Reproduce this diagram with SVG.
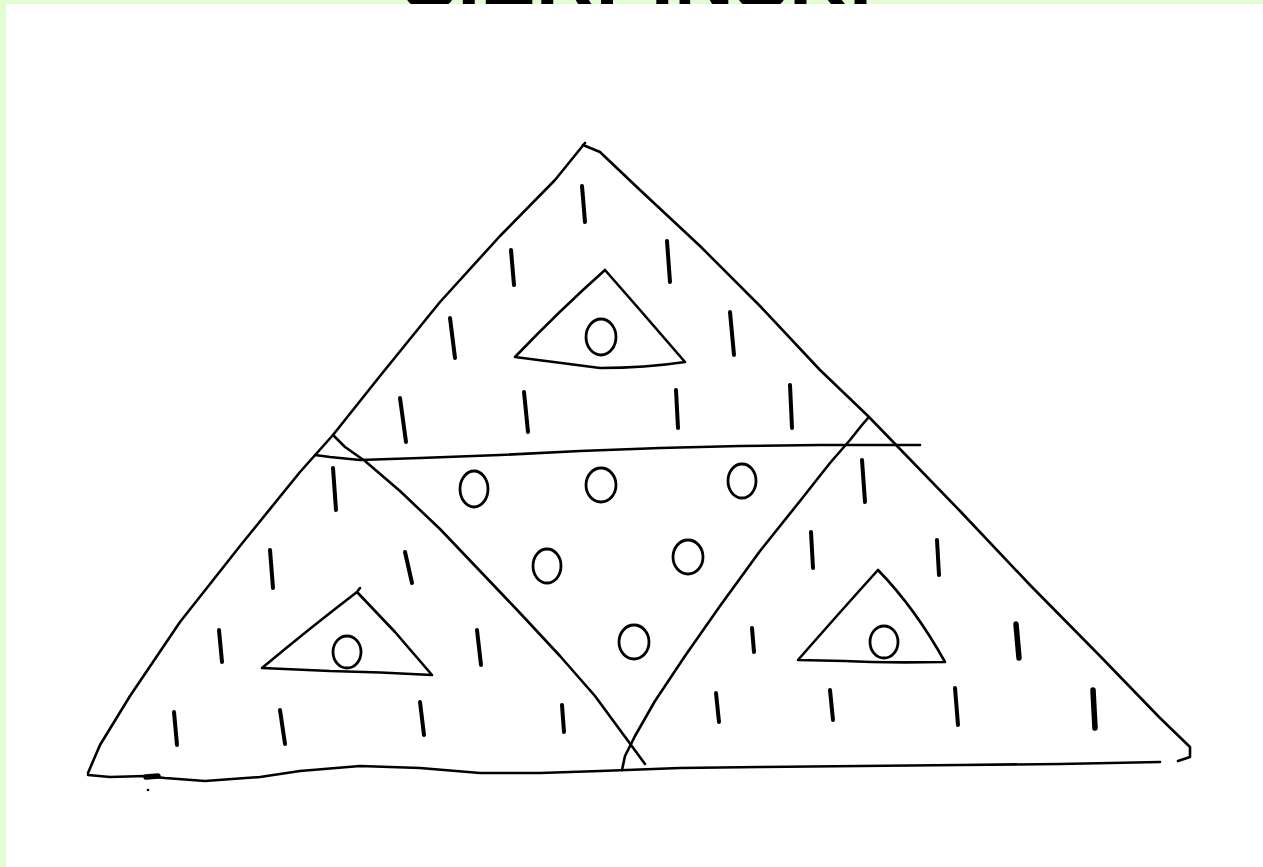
<svg xmlns="http://www.w3.org/2000/svg" width="1263" height="867" viewBox="0 0 1263 867">
<style>
.ln{fill:none;stroke:#000;stroke-width:2.6;stroke-linecap:round;stroke-linejoin:round}
.tk{fill:none;stroke:#000;stroke-width:4;stroke-linecap:round}
.tkb{fill:none;stroke:#000;stroke-width:5.5;stroke-linecap:round}
.ci{fill:none;stroke:#000;stroke-width:2.8}
.title{font-family:"Liberation Sans",Arial,sans-serif;font-weight:bold;font-size:84px;fill:#000}
</style>
<rect x="0" y="0" width="1263" height="867" fill="#e2fcd4"/>
<text class="title" x="402" y="8" textLength="470" lengthAdjust="spacingAndGlyphs">SIERPINSKI</text>
<rect x="6" y="4" width="1257" height="863" fill="#fff"/>
<g id="outer-triangle">
<path class="ln" d="M585 143 L555 180 L500 236 L440 302 L380 376 L333 435 L300 472 L240 546 L180 622 L130 696 L100 745 L88 773"/>
<path class="ln" d="M583 145 L600 152 L640 190 L700 246 L760 306 L820 370 L868 416 L900 449 L960 511 L1030 585 L1100 656 L1160 718 L1190 747 L1190 757 L1178 761"/>
<path class="ln" d="M88 775 L110 777 L145 776 L165 778 L205 781 L260 777 L300 771 L360 766 L420 768 L480 773 L540 773 L600 771 L680 768 L760 767 L860 766 L960 765 L1060 764 L1160 762"/>
<path class="tkb" d="M146 777 L158 776"/>
<circle cx="148" cy="790" r="1.3" fill="#000"/>
</g>
<g id="middle-line">
<path class="ln" d="M315 455 L330 457 L360 460 L420 458 L500 455 L580 451 L660 448 L740 446 L820 445 L920 445"/>
</g>
<g id="inner-triangle">
<path class="ln" d="M333 435 L345 447 L365 461 L400 491 L440 529 L480 571 L520 613 L560 656 L595 696 L620 730 L645 764"/>
<path class="ln" d="M868 418 L862 425 L850 440 L830 463 L800 501 L760 551 L720 606 L685 656 L655 701 L635 736 L625 756 L622 770"/>
</g>
<g id="top-small-triangle">
<path class="ln" d="M605 270 L640 310 L685 362 Q645 368 600 368 Q555 362 515 357 Q560 310 605 270"/>
<ellipse class="ci" cx="601" cy="337" rx="15" ry="18"/>
</g>
<g id="left-small-triangle">
<path class="ln" d="M360 588 L357 592 L395 632 L432 675 Q380 672 330 671 L262 668 Q310 628 357 592"/>
<ellipse class="ci" cx="347" cy="652" rx="14" ry="16"/>
</g>
<g id="right-small-triangle">
<path class="ln" d="M878 570 Q915 608 945 662 Q880 663 845 661 L798 660 Q840 612 878 570"/>
<ellipse class="ci" cx="884" cy="642" rx="14" ry="16"/>
</g>
<g id="middle-circles">
<ellipse class="ci" cx="474" cy="489" rx="14" ry="18"/>
<ellipse class="ci" cx="601" cy="485" rx="15" ry="17"/>
<ellipse class="ci" cx="742" cy="481" rx="14" ry="17"/>
<ellipse class="ci" cx="547" cy="566" rx="14" ry="17"/>
<ellipse class="ci" cx="688" cy="557" rx="15" ry="17"/>
<ellipse class="ci" cx="634" cy="642" rx="15" ry="17"/>
</g>
<g id="ticks">
<path class="tk" d="M582 186 L585 222"/>
<path class="tk" d="M511 250 L514 285"/>
<path class="tk" d="M667 241 L670 282"/>
<path class="tk" d="M450 318 L455 358"/>
<path class="tk" d="M730 312 L734 355"/>
<path class="tk" d="M400 398 L406 442"/>
<path class="tk" d="M524 392 L528 432"/>
<path class="tk" d="M676 390 L678 428"/>
<path class="tk" d="M790 385 L792 428"/>
<path class="tk" d="M333 468 L336 510"/>
<path class="tk" d="M270 550 L273 588"/>
<path class="tk" d="M405 552 L412 583"/>
<path class="tk" d="M219 630 L222 662"/>
<path class="tk" d="M477 630 L481 665"/>
<path class="tk" d="M174 712 L177 745"/>
<path class="tk" d="M280 710 L285 744"/>
<path class="tk" d="M420 702 L424 735"/>
<path class="tk" d="M562 705 L564 732"/>
<path class="tk" d="M862 460 L865 502"/>
<path class="tk" d="M811 532 L813 568"/>
<path class="tk" d="M937 540 L939 575"/>
<path class="tk" d="M752 628 L754 652"/>
<path class="tkb" d="M1016 624 L1019 658"/>
<path class="tk" d="M716 693 L719 722"/>
<path class="tk" d="M830 690 L833 720"/>
<path class="tk" d="M955 688 L958 725"/>
<path class="tkb" d="M1093 690 L1095 728"/>
</g>
</svg>
